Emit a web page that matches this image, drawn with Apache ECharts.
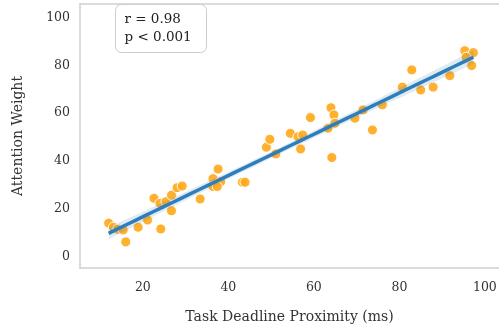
<!DOCTYPE html>
<html>
<head>
<meta charset="utf-8">
<script src="https://cdn.jsdelivr.net/npm/echarts@6/dist/echarts.min.js"></script>
<style>
  html, body { margin: 0; padding: 0; background: #fff; }
  #main { width: 499px; height: 326px; }
</style>
</head>
<body>
<div id="main"></div>
<script>
var chart = echarts.init(document.getElementById('main'));

// data
var proximity = [12.0, 13.1, 14.1, 15.4, 16.0, 18.9, 21.1, 22.6, 24.2, 24.0,
  25.4, 26.7, 26.7, 28.0, 29.2, 33.4, 36.4, 36.4, 37.6, 38.2,
  37.4, 43.3, 43.9, 48.9, 49.7, 51.1, 54.5, 56.3, 57.4, 56.9,
  59.2, 64.0, 64.7, 63.3, 64.9, 64.2, 69.6, 71.5, 73.7, 76.0,
  80.7, 82.9, 85.0, 87.9, 91.8, 95.3, 97.3, 95.6, 96.9];
var attention = [14.1, 12.4, 11.6, 11.3, 6.3, 12.4, 15.4, 24.5, 11.7, 22.4,
  23.1, 19.3, 25.8, 28.9, 29.6, 24.2, 32.7, 29.4, 36.7, 31.4,
  29.4, 31.2, 31.2, 45.8, 49.1, 43.0, 51.6, 50.2, 50.9, 45.1,
  58.2, 62.3, 59.3, 53.7, 55.8, 41.5, 57.9, 61.4, 53.0, 63.5,
  70.9, 78.1, 69.7, 70.9, 75.7, 86.1, 85.3, 83.4, 79.9];
var xTicks = [20, 40, 60, 80, 100];
var yTicks = [0, 20, 40, 60, 80, 100];
var statsText = 'r = 0.98\np < 0.001';

// least squares fit + 95% band
var n = proximity.length;
var mx = 0, my = 0;
for (var i = 0; i < n; i++) { mx += proximity[i]; my += attention[i]; }
mx /= n; my /= n;
var sxx = 0, sxy = 0;
for (var i = 0; i < n; i++) {
  sxx += (proximity[i] - mx) * (proximity[i] - mx);
  sxy += (proximity[i] - mx) * (attention[i] - my);
}
var slope = sxy / sxx;
var icpt = my - slope * mx;
var sse = 0;
for (var i = 0; i < n; i++) {
  var r = attention[i] - (icpt + slope * proximity[i]);
  sse += r * r;
}
var se = Math.sqrt(sse / (n - 2));
var xmin = Math.min.apply(null, proximity), xmax = Math.max.apply(null, proximity);
var fitLine = [], bandUp = [], bandDown = [];
for (var k = 0; k <= 40; k++) {
  var x = xmin + (xmax - xmin) * k / 40;
  var yhat = icpt + slope * x;
  var half = 2.01 * se * Math.sqrt(1 / n + (x - mx) * (x - mx) / sxx);
  fitLine.push([x, yhat]);
  bandUp.push([x, yhat + half]);
  bandDown.push([x, yhat - half]);
}
var bandPoly = bandUp.concat(bandDown.slice().reverse());

var pts = proximity.map(function (v, i) { return [v, attention[i]]; });
var font = 'DejaVu Serif';
var spine = { show: true, onZero: false, lineStyle: { color: '#cfcfcf', width: 1.5 } };

var option = {
  animation: false,
  backgroundColor: '#fff',
  grid: { left: 80, right: 0, top: 4, bottom: 58, outerBoundsMode: 'none', containLabel: false },
  xAxis: [{
    type: 'value', min: 5.3, max: 103.3,
    name: 'Task Deadline Proximity (ms)', nameLocation: 'middle', nameGap: 42,
    nameTextStyle: { fontFamily: font, fontSize: 14, color: '#333' },
    axisLine: spine,
    axisTick: { show: false },
    splitLine: { show: false },
    axisLabel: { customValues: xTicks, fontFamily: font, fontSize: 12.5, color: '#333', margin: 13 }
  }, {
    type: 'value', min: 5.3, max: 103.3, position: 'top',
    axisLine: spine,
    axisTick: { show: false }, axisLabel: { show: false }, splitLine: { show: false }
  }],
  yAxis: {
    type: 'value', min: -4.6, max: 105.6,
    name: 'Attention Weight', nameLocation: 'middle', nameGap: 55,
    nameTextStyle: { fontFamily: font, fontSize: 14, color: '#333' },
    axisLine: spine,
    axisTick: { show: false },
    splitLine: { show: false },
    axisLabel: { customValues: yTicks, fontFamily: font, fontSize: 12.5, color: '#333', margin: 10 }
  },
  series: [{
    type: 'scatter', data: pts, symbolSize: 10, z: 2,
    itemStyle: { color: '#ffa91c', opacity: 0.92, borderColor: '#fff', borderWidth: 1 }
  }, {
    type: 'custom', z: 3, silent: true,
    data: [0],
    renderItem: function (params, api) {
      var p = bandPoly.map(function (d) { return api.coord(d); });
      return { type: 'polygon', shape: { points: p }, style: { fill: 'rgba(47,126,188,0.16)' } };
    }
  }, {
    type: 'line', data: fitLine, symbol: 'none', z: 4,
    lineStyle: { color: '#2f7ebc', width: 3.5 }
  }],
  graphic: [{
    type: 'group', left: 115, top: 4, z: 10,
    children: [{
      type: 'rect', shape: { x: 0, y: 0, width: 91, height: 48, r: 6 },
      style: { fill: '#fff', stroke: '#cccccc', lineWidth: 1 }
    }, {
      type: 'text', x: 9, y: 6,
      style: { text: statsText, font: '13.5px "DejaVu Serif"', fill: '#222', lineHeight: 18 }
    }]
  }]
};
chart.setOption(option);
</script>
</body>
</html>
